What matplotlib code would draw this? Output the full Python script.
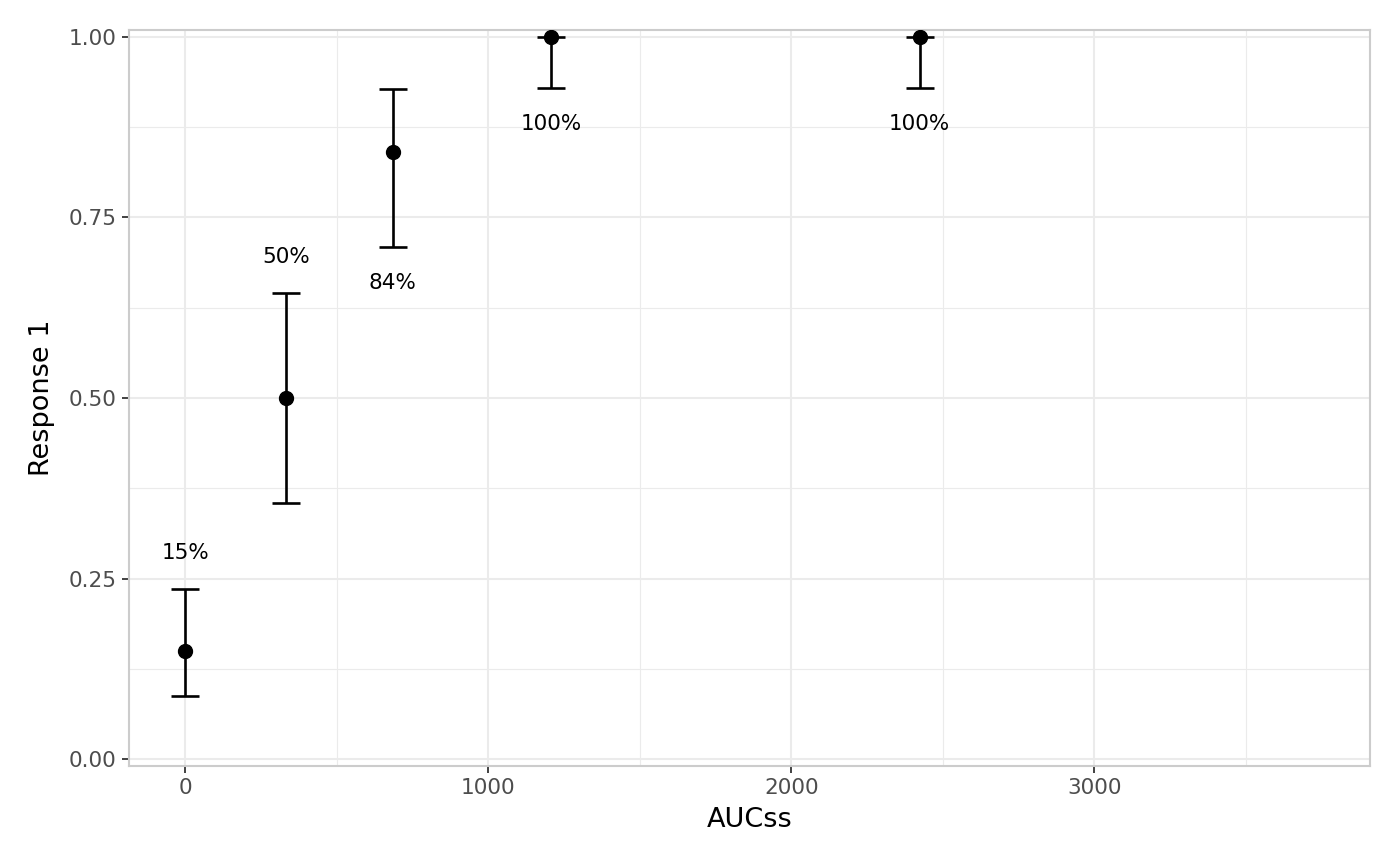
import matplotlib
matplotlib.use("Agg")
import matplotlib.pyplot as plt
from matplotlib.ticker import MultipleLocator, FixedLocator
import numpy as np

plt.rcParams['font.family'] = ['DejaVu Sans']

# Data
aucss = [0, 332, 685, 1207, 2424]
response = [0.15, 0.50, 0.84, 1.00, 1.00]
ci_lower = [0.087, 0.355, 0.709, 0.929, 0.929]
ci_upper = [0.235, 0.645, 0.928, 1.00, 1.00]
labels = ["15%", "50%", "84%", "100%", "100%"]
label_above = [True, True, False, False, False]

x_ticks = [0, 1000, 2000, 3000]
y_ticks = [0.00, 0.25, 0.50, 0.75, 1.00]
y_tick_labels = ["0.00", "0.25", "0.50", "0.75", "1.00"]

fig = plt.figure(figsize=(14, 8.65), dpi=100)
ax = fig.add_axes([129/1400, 1 - 766/865, (1370-129)/1400, (766-30)/865])

# grid
ax.set_axisbelow(True)
ax.xaxis.set_major_locator(FixedLocator(x_ticks))
ax.xaxis.set_minor_locator(FixedLocator([500, 1500, 2500, 3500]))
ax.yaxis.set_major_locator(FixedLocator(y_ticks))
ax.yaxis.set_minor_locator(FixedLocator([0.125, 0.375, 0.625, 0.875]))
ax.grid(which='major', color='#EBEBEB', linewidth=1.5)
ax.grid(which='minor', color='#EBEBEB', linewidth=0.8)
ax.tick_params(which='minor', length=0)

y = np.array(response)
lo = np.array(ci_lower)
hi = np.array(ci_upper)
ax.errorbar(aucss, y, yerr=[y - lo, hi - y], fmt='none', ecolor='black',
            elinewidth=1.9, capsize=9.8, capthick=1.9, zorder=3)
ax.plot(aucss, y, 'o', color='black', markersize=10, zorder=4)

for xi, l, h, lab, above in zip(aucss, lo, hi, labels, label_above):
    ty = h + 0.05 if above else l - 0.05
    ax.text(xi, ty, lab, ha='center', va='center', fontsize=15.5, color='black', zorder=5)

ax.set_xlim(-186, 3910)
ax.set_ylim(-0.0093, 1.0093)
ax.set_yticklabels(y_tick_labels)

for s in ax.spines.values():
    s.set_color('#CCCCCC')
    s.set_linewidth(1.5)

ax.tick_params(which='major', length=4.9, width=1.3, color='#333333',
               labelsize=15.6, labelcolor='#4D4D4D', pad=4)

ax.set_xlabel('AUCss', fontsize=19.5, color='black', labelpad=6)
ax.set_ylabel('Response 1', fontsize=19.5, color='black', labelpad=10)

fig.savefig('out.png', dpi=100, facecolor='white')
